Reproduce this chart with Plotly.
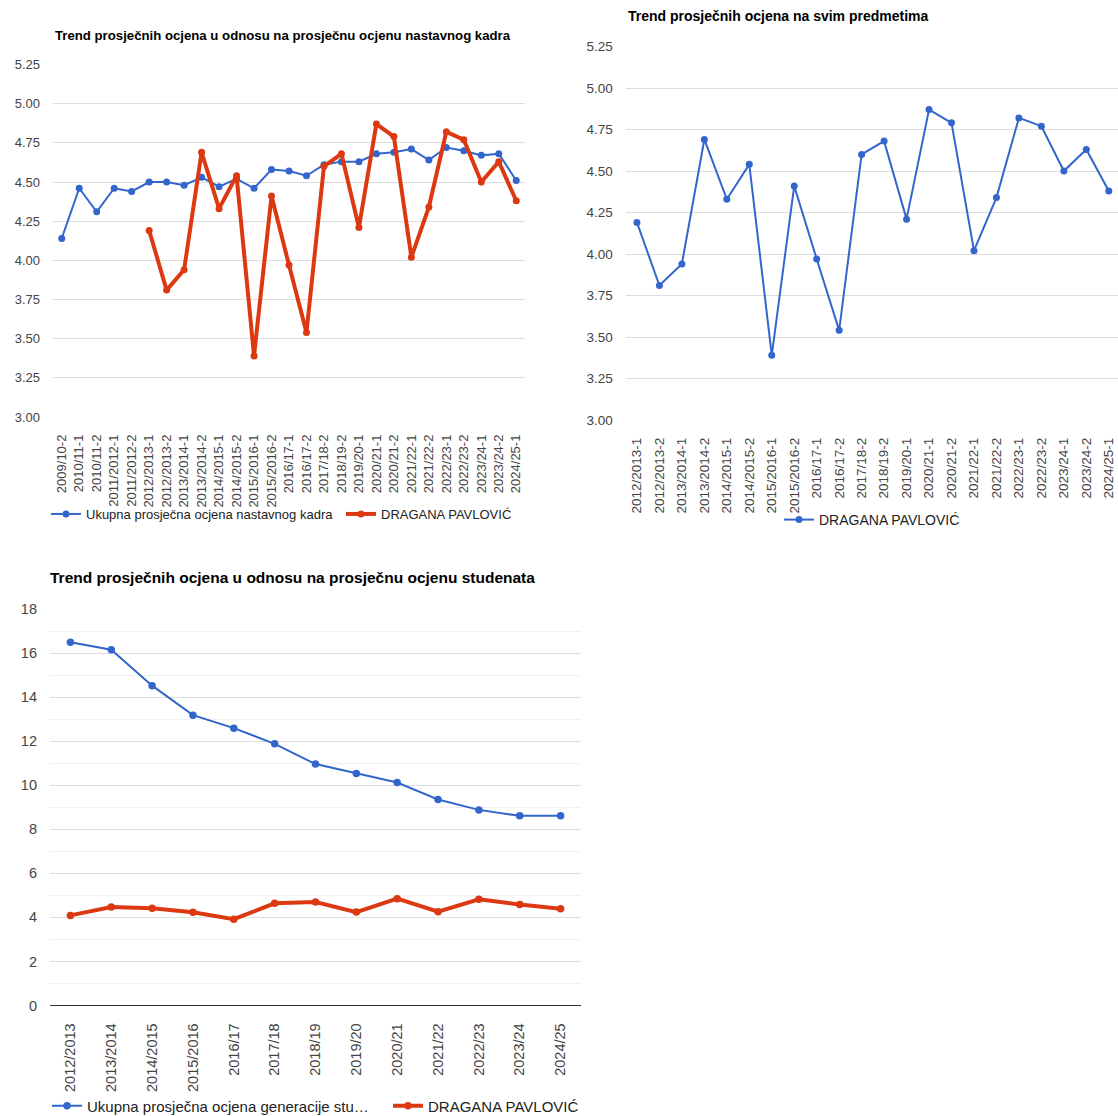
import plotly.graph_objects as go

# ---------------- data ----------------
cats1 = ["2009/10-2", "2010/11-1", "2010/11-2", "2011/2012-1", "2011/2012-2",
         "2012/2013-1", "2012/2013-2", "2013/2014-1", "2013/2014-2", "2014/2015-1",
         "2014/2015-2", "2015/2016-1", "2015/2016-2", "2016/17-1", "2016/17-2",
         "2017/18-2", "2018/19-2", "2019/20-1", "2020/21-1", "2020/21-2",
         "2021/22-1", "2021/22-2", "2022/23-1", "2022/23-2", "2023/24-1",
         "2023/24-2", "2024/25-1"]
staff_avg = [4.14, 4.46, 4.31, 4.46, 4.44, 4.50, 4.50, 4.48, 4.53, 4.47,
             4.52, 4.46, 4.58, 4.57, 4.54, 4.61, 4.63, 4.63, 4.68, 4.69,
             4.71, 4.64, 4.72, 4.70, 4.67, 4.68, 4.51]

cats2 = ["2012/2013-1", "2012/2013-2", "2013/2014-1", "2013/2014-2", "2014/2015-1",
         "2014/2015-2", "2015/2016-1", "2015/2016-2", "2016/17-1", "2016/17-2",
         "2017/18-2", "2018/19-2", "2019/20-1", "2020/21-1", "2020/21-2",
         "2021/22-1", "2021/22-2", "2022/23-1", "2022/23-2", "2023/24-1",
         "2023/24-2", "2024/25-1"]
teacher_avg = [4.19, 3.81, 3.94, 4.69, 4.33, 4.54, 3.39, 4.41, 3.97, 3.54,
               4.60, 4.68, 4.21, 4.87, 4.79, 4.02, 4.34, 4.82, 4.77, 4.50,
               4.63, 4.38]

cats3 = ["2012/2013", "2013/2014", "2014/2015", "2015/2016", "2016/17", "2017/18",
         "2018/19", "2019/20", "2020/21", "2021/22", "2022/23", "2023/24", "2024/25"]
generation_avg = [16.49, 16.15, 14.52, 13.18, 12.59, 11.88, 10.96, 10.53, 10.12,
                  9.35, 8.88, 8.61, 8.61]
teacher_year_avg = [4.09, 4.47, 4.42, 4.23, 3.92, 4.64, 4.70, 4.24, 4.85, 4.26,
                    4.82, 4.58, 4.39]

yticks_a = [3.00, 3.25, 3.50, 3.75, 4.00, 4.25, 4.50, 4.75, 5.00, 5.25]
yticks_c = [0, 2, 4, 6, 8, 10, 12, 14, 16, 18]

legend1_names = ["Ukupna prosječna ocjena nastavnog kadra", "DRAGANA PAVLOVIĆ"]
legend3_names = ["Ukupna prosječna ocjena generacije stu…", "DRAGANA PAVLOVIĆ"]
titles = ["Trend prosječnih ocjena u odnosu na prosječnu ocjenu nastavnog kadra",
          "Trend prosječnih ocjena na svim predmetima",
          "Trend prosječnih ocjena u odnosu na prosječnu ocjenu studenata"]

# ---------------- style ----------------
BLUE = "#3366cc"
RED = "#dc3912"
FONT = "Liberation Sans, Arial, sans-serif"
GRID = "#dddddd"
W, H = 1118, 1116

def px_x(p):
    return p / W

def px_y(p):
    return 1 - p / H

fig = go.Figure()

# chart 1
fig.add_trace(go.Scatter(x=cats1, y=staff_avg, name=legend1_names[0], mode="lines+markers",
                         line=dict(color=BLUE, width=2), marker=dict(color=BLUE, size=7),
                         xaxis="x", yaxis="y", legend="legend"))
fig.add_trace(go.Scatter(x=cats2, y=teacher_avg, name=legend1_names[1], mode="lines+markers",
                         line=dict(color=RED, width=4), marker=dict(color=RED, size=7),
                         xaxis="x", yaxis="y", legend="legend"))
# chart 2
fig.add_trace(go.Scatter(x=cats2, y=teacher_avg, name="DRAGANA PAVLOVIĆ", mode="lines+markers",
                         line=dict(color=BLUE, width=2), marker=dict(color=BLUE, size=7),
                         xaxis="x2", yaxis="y2", legend="legend2"))
# chart 3
fig.add_trace(go.Scatter(x=cats3, y=generation_avg, name=legend3_names[0], mode="lines+markers",
                         line=dict(color=BLUE, width=2), marker=dict(color=BLUE, size=7.5),
                         xaxis="x3", yaxis="y3", legend="legend3"))
fig.add_trace(go.Scatter(x=cats3, y=teacher_year_avg, name=legend3_names[1], mode="lines+markers",
                         line=dict(color=RED, width=4), marker=dict(color=RED, size=7.5),
                         xaxis="x3", yaxis="y3", legend="legend3"))

def tf(size):
    return dict(family=FONT, size=size, color="#444444")

def lf(size):
    return dict(family=FONT, size=size, color="#222222")

common_x = dict(type="category", tickangle=-90, showgrid=False, zeroline=False,
                showline=False, ticks="", fixedrange=True, ticklabelstandoff=14)
common_y = dict(showgrid=True, gridcolor=GRID, gridwidth=1, zeroline=False,
                showline=False, ticks="", ticklabelstandoff=12)

fig.update_layout(
    width=W, height=H, margin=dict(l=0, r=0, t=0, b=0, autoexpand=False),
    paper_bgcolor="white", plot_bgcolor="white",
    font=dict(family=FONT, size=13, color="#222222"),
    xaxis=dict(common_x, domain=[px_x(53), px_x(525)], categoryorder="array",
               categoryarray=cats1, range=[-0.5, len(cats1) - 0.5], anchor="y",
               tickfont=tf(13)),
    yaxis=dict(common_y, domain=[px_y(417), px_y(64.5)], range=[3, 5.25],
               tickvals=yticks_a, ticktext=[f"{v:.2f}" for v in yticks_a], anchor="x",
               tickfont=tf(13)),
    xaxis2=dict(common_x, domain=[px_x(625.7), 1.0], categoryorder="array",
                categoryarray=cats2, range=[-0.5, len(cats2) - 0.5 - 0.09], anchor="y2",
                tickfont=tf(13.5)),
    yaxis2=dict(common_y, domain=[px_y(420), px_y(46.5)], range=[3, 5.25],
                tickvals=yticks_a, ticktext=[f"{v:.2f}" for v in yticks_a], anchor="x2",
                tickfont=tf(13.5)),
    xaxis3=dict(common_x, domain=[px_x(50), px_x(581)], categoryorder="array",
                categoryarray=cats3, range=[-0.5, len(cats3) - 0.5], anchor="y3",
                tickfont=tf(14.5)),
    yaxis3=dict(common_y, domain=[px_y(1005.5), px_y(609)], range=[0, 18],
                tickvals=yticks_c, anchor="x3", zeroline=True, zerolinecolor="#333333",
                zerolinewidth=1, tickfont=tf(14.5),
                minor=dict(dtick=1, tick0=0, showgrid=True, gridcolor="#f0f0f0", ticks="")),
    legend=dict(orientation="h", x=px_x(46), y=px_y(514), xanchor="left", yanchor="middle",
                font=lf(13), entrywidth=250, entrywidthmode="pixels",
                bgcolor="rgba(0,0,0,0)"),
    legend2=dict(orientation="h", x=px_x(779), y=px_y(520), xanchor="left", yanchor="middle",
                 font=lf(14), bgcolor="rgba(0,0,0,0)"),
    legend3=dict(orientation="h", x=px_x(47), y=px_y(1106), xanchor="left", yanchor="middle",
                 font=lf(15), entrywidth=296, entrywidthmode="pixels",
                 bgcolor="rgba(0,0,0,0)"),
    showlegend=True,
)

title_pos = [(53, 36, 13.2), (626, 16, 14), (48, 577, 15.5)]
for t, (tx, ty, fs) in zip(titles, title_pos):
    fig.add_annotation(text=f"<b>{t}</b>", xref="paper", yref="paper", x=px_x(tx), y=px_y(ty),
                       xanchor="left", yanchor="middle", showarrow=False,
                       font=dict(family=FONT, size=fs, color="#000000"))

fig.write_html("out.html", config={"displayModeBar": False},
               post_script="document.body.style.margin='0px';document.body.style.overflow='hidden';")
